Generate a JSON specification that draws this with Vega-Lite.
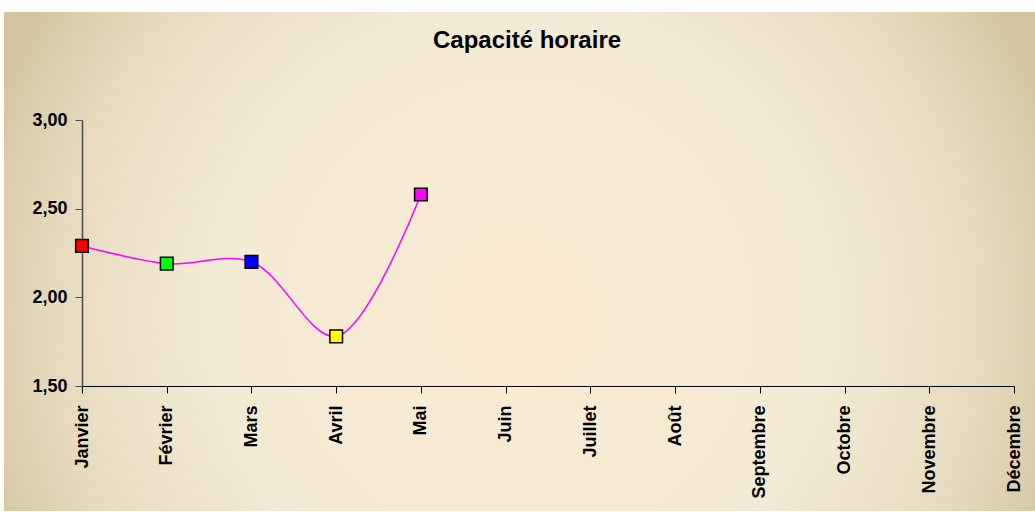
{
  "$schema": "https://vega.github.io/schema/vega-lite/v6.json",
  "width": 1031,
  "height": 499,
  "autosize": {"type": "none"},
  "padding": {"top": 12, "left": 4, "right": 0, "bottom": 6},
  "background": "#FFFFFF",
  "config": {
    "view": {
      "stroke": null,
      "fill": {
        "gradient": "radial",
        "x1": 0.5, "y1": 0.55, "r1": 0,
        "x2": 0.5, "y2": 0.55, "r2": 0.55,
        "stops": [
          {"offset": 0, "color": "#FCEBD2"},
          {"offset": 0.55, "color": "#F3EAD5"},
          {"offset": 0.82, "color": "#E6DBBF"},
          {"offset": 1, "color": "#D4C6A1"}
        ]
      }
    },
    "font": "Liberation Sans",
    "axis": {"labelFont": "Liberation Sans", "labelFontWeight": "bold", "labelFontSize": 18, "labelColor": "#000000", "grid": false, "title": null}
  },
  "title": {
    "text": "Capacité horaire",
    "font": "Liberation Sans",
    "fontSize": 24,
    "fontWeight": "bold",
    "color": "#000000",
    "anchor": "start",
    "offset": -41,
    "dx": 429
  },
  "data": {
    "values": [
      {"mois": "Janvier", "valeur": 2.29},
      {"mois": "Février", "valeur": 2.19},
      {"mois": "Mars", "valeur": 2.20},
      {"mois": "Avril", "valeur": 1.78},
      {"mois": "Mai", "valeur": 2.58}
    ]
  },
  "encoding": {
    "x": {
      "field": "mois",
      "type": "ordinal",
      "sort": null,
      "scale": {
        "type": "point",
        "padding": 0,
        "domain": ["Janvier", "Février", "Mars", "Avril", "Mai", "Juin", "Juillet", "Août", "Septembre", "Octobre", "Novembre", "Décembre"],
        "range": [78, 1010]
      },
      "axis": {
        "offset": -125,
        "labelAngle": -90,
        "labelAlign": "right",
        "labelBaseline": "middle",
        "labelPadding": 12,
        "labelFontSize": 18,
        "tickSize": 7,
        "tickColor": "#000000",
        "domainColor": "#000000",
        "domainWidth": 1.2,
        "labelOverlap": false
      }
    },
    "y": {
      "field": "valeur",
      "type": "quantitative",
      "scale": {"domain": [1.5, 3], "range": [374, 108], "zero": false, "nice": false},
      "axis": {
        "offset": -78,
        "values": [1.5, 2, 2.5, 3],
        "labelExpr": "replace(format(datum.value, '.2f'), '.', ',')",
        "labelFontSize": 18,
        "tickSize": 7,
        "labelPadding": 8,
        "tickColor": "#4A4A4A",
        "domainColor": "#4A4A4A",
        "domainWidth": 1.5
      }
    }
  },
  "layer": [
    {
      "mark": {"type": "line", "color": "#FF00FF", "strokeWidth": 1.5, "interpolate": "catmull-rom"}
    },
    {
      "mark": {"type": "point", "shape": "square", "filled": true, "size": 160, "stroke": "#000000", "strokeWidth": 1.5, "opacity": 1},
      "encoding": {
        "fill": {
          "field": "mois",
          "type": "nominal",
          "scale": {"domain": ["Janvier", "Février", "Mars", "Avril", "Mai"], "range": ["#FF0000", "#00FF00", "#0000FF", "#FFFF00", "#FF00FF"]},
          "legend": null
        }
      }
    }
  ]
}
